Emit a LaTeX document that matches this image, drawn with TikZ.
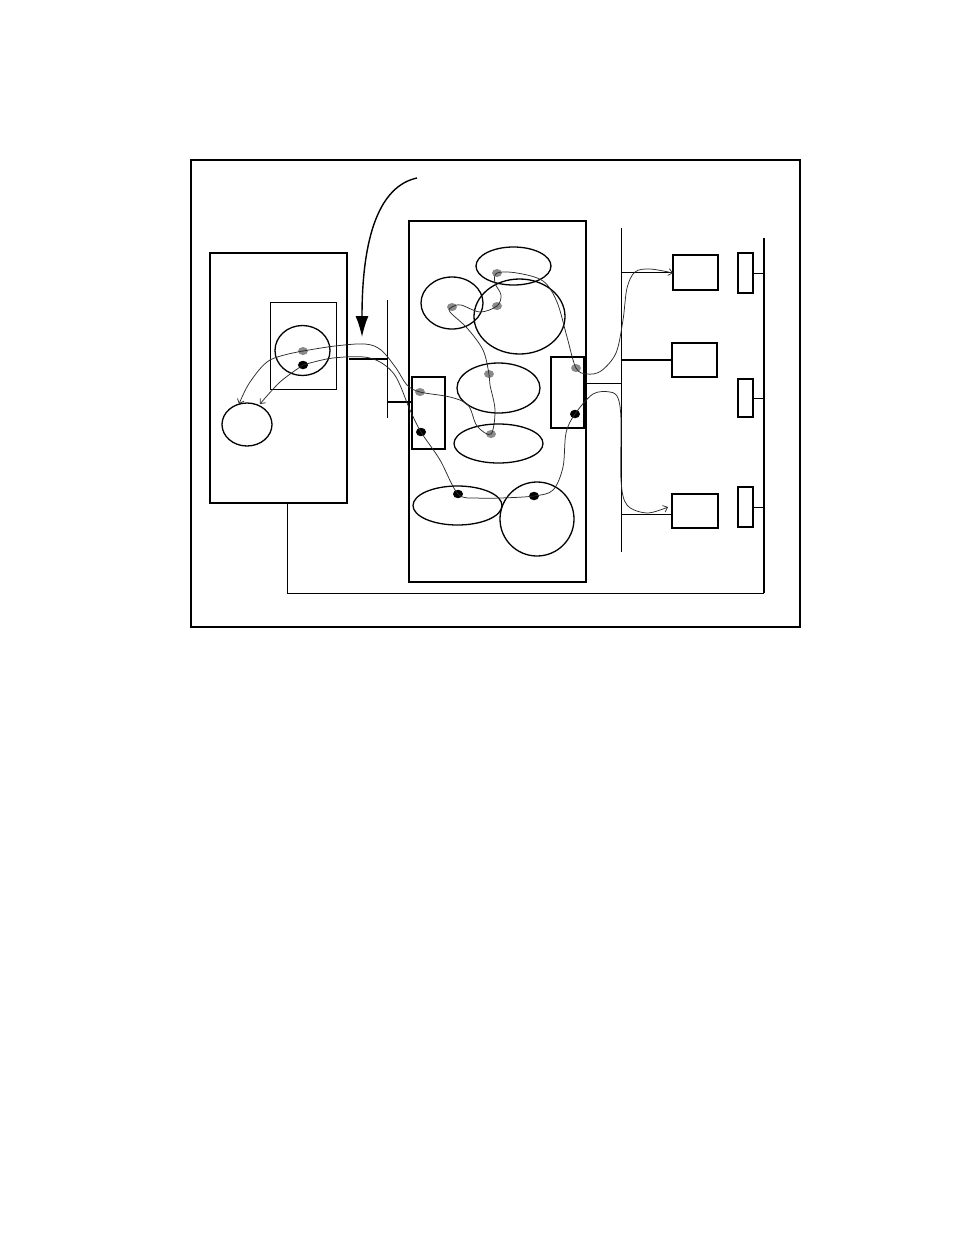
\documentclass[tikz,border=0pt]{standalone}
\usetikzlibrary{shapes.geometric,arrows.meta}
\definecolor{dotgray}{HTML}{8A8A8A}
\definecolor{wire}{HTML}{2A2A2A}
\tikzset{
  ell/.style={draw, ellipse, line width=1.3pt, inner sep=0pt, outer sep=0pt},
  box/.style={draw, rectangle, inner sep=0pt, outer sep=0pt},
  gdot/.style={ellipse, fill=dotgray, inner sep=0pt, minimum width=10pt, minimum height=8pt},
  bdot/.style={ellipse, fill=black, inner sep=0pt, minimum width=10pt, minimum height=8.5pt},
  flow/.style={wire, line width=0.75pt},
  tip/.style={-{Straight Barb[length=4pt,width=7pt]}},
}
\begin{document}
\begin{tikzpicture}[x=1pt,y=-1pt]
\useasboundingbox (0,0) rectangle (954,1235);
% outer frame
\node[box, line width=1.2pt, minimum width=609pt, minimum height=467pt] (frame) at (495.5,393.5) {};
% left host
\node[box, line width=1.2pt, minimum width=137pt, minimum height=250pt] (lhost) at (278.5,378) {};
\node[box, line width=0.9pt, minimum width=66pt, minimum height=87pt] (lin) at (303,345.5) {};
\node[ell, minimum width=55pt, minimum height=50pt] (c1) at (302.5,350.5) {};
\node[ell, minimum width=50pt, minimum height=43pt] (c2) at (247,424.5) {};
% middle host
\node[box, line width=2pt, minimum width=177pt, minimum height=361.5pt] (mid) at (497.5,401.25) {};
\node[ell, minimum width=75pt, minimum height=38pt] (e1) at (513.5,266) {};
\node[ell, minimum width=62pt, minimum height=52pt] (e2) at (452,303) {};
\node[ell, minimum width=91pt, minimum height=75pt] (e3) at (519.5,316.5) {};
\node[ell, minimum width=83pt, minimum height=50pt] (e4) at (498.5,388) {};
\node[ell, minimum width=89pt, minimum height=39pt] (e5) at (498.5,443.5) {};
\node[ell, minimum width=89pt, minimum height=39pt] (e6) at (457.5,505.5) {};
\node[ell, minimum width=74pt, minimum height=74pt] (e7) at (537,519) {};
\node[box, line width=1.5pt, minimum width=33pt, minimum height=72pt] (sbl) at (428.5,413) {};
\node[box, line width=1.5pt, minimum width=33pt, minimum height=71pt] (sbr) at (567.5,392.5) {};
\draw[line width=3pt] (sbr.north east) -- (sbr.south east);
% right side boxes
\node[box, line width=1.2pt, minimum width=45pt, minimum height=35pt] (b1) at (695.5,272.5) {};
\node[box, line width=1.5pt, minimum width=45pt, minimum height=34pt] (b2) at (694.5,360) {};
\node[box, line width=1.1pt, minimum width=46pt, minimum height=34pt] (b3) at (695,511) {};
\node[box, line width=1.5pt, minimum width=15pt, minimum height=40pt] (s1) at (745.5,273) {};
\node[box, line width=1.5pt, minimum width=15pt, minimum height=38pt] (s2) at (745.5,398) {};
\node[box, line width=1.5pt, minimum width=15pt, minimum height=40pt] (s3) at (745.5,507) {};
% buses
\coordinate (rbT) at (764,238);
\coordinate (rbB) at (764,593);
\coordinate (mbT) at (621,228);
\coordinate (mbB) at (621,552);
\coordinate (lbT) at (387,300);
\coordinate (lbB) at (387,418);
\coordinate (lfoot) at (287,503);
\coordinate (lstub) at (349,359);
\draw[line width=1.5pt] (rbT) -- (rbB);
\draw[line width=1pt] (lfoot) |- (rbB);
\draw[line width=1pt] (s1.east) -- (s1.east -| rbT);
\draw[line width=1pt] (s2.east) -- (s2.east -| rbT);
\draw[line width=1pt] (s3.east) -- (s3.east -| rbT);
\draw[line width=0.9pt] (mbT) -- (mbB);
\draw[line width=0.9pt] (b1.west) -- (b1.west -| mbT);
\draw[line width=2pt] (b2.west) -- (b2.west -| mbT);
\draw[line width=0.9pt] (b3.west |- 0,514) -- (mbT |- 0,514);
\draw[line width=0.9pt] (sbr.east |- 0,383) -- (mbT |- 0,383);
\draw[line width=0.9pt] (lbT) -- (lbB);
\draw[line width=2pt] (lstub) -- (lstub -| lbT);
\draw[line width=2pt] (sbl.west |- 0,402) -- (lbT |- 0,402);
% big arrow
\coordinate (arS) at (417,178);
\coordinate (arE) at (362,337);
\draw[line width=1.4pt, -{Latex[length=21pt,width=13pt]}] (arS) .. controls (380,186) and (362,235) .. (arE);
% dots
\node[gdot] (g1) at (303,351) {};
\node[gdot] (g2) at (420,392) {};
\node[gdot] (g3) at (491,434) {};
\node[gdot] (g4) at (489,374) {};
\node[gdot] (g5) at (452,307) {};
\node[gdot] (g6) at (497,306) {};
\node[gdot] (g7) at (497,273) {};
\node[gdot] (g8) at (576,368) {};
\node[bdot] (k1) at (303,365) {};
\node[bdot] (k2) at (421,432) {};
\node[bdot] (k3) at (458,494) {};
\node[bdot] (k4) at (534,496) {};
\node[bdot] (k5) at (575,414) {};
\coordinate (ga) at (239,404);
\coordinate (gb) at (673,273);
\coordinate (ka) at (260,404);
\coordinate (kb) at (668,507);
% gray flow
\draw[flow, tip] plot[smooth, tension=0.55] coordinates {
 (g1.center) (270,360) (250,382) (ga)};
\draw[flow, tip] plot[smooth, tension=0.55] coordinates {
 (g1.center) (335,346) (365,344) (381,350) (396,368) (407,385) (g2.center)
 (450,397) (468,405) (477,426) (g3.center) (495,410) (490,385) (g4.center)
 (483,350) (467,328) (450,312) (g5.center) (461,305) (480,312) (g6.center)
 (501,295) (495,283) (g7.center) (517,273) (543,281) (557,302) (567,337) (g8.center)
 (587,374) (601,371) (616,353) (623,320) (627,288) (635,272) (650,269) (gb)};
% black flow
\draw[flow, tip] plot[smooth, tension=0.55] coordinates {
 (k1.center) (280,382) (ka)};
\draw[flow, tip] plot[smooth, tension=0.55] coordinates {
 (k1.center) (333,358) (370,358) (394,374) (410,410) (k2.center)
 (440,460) (k3.center) (477,498) (500,498) (k4.center)
 (553,490) (563,467) (566,433) (k5.center) (593,394) (610,392) (618,398)
 (621,420) (621,480) (627,505) (647,513) (kb)};
\end{tikzpicture}
\end{document}
